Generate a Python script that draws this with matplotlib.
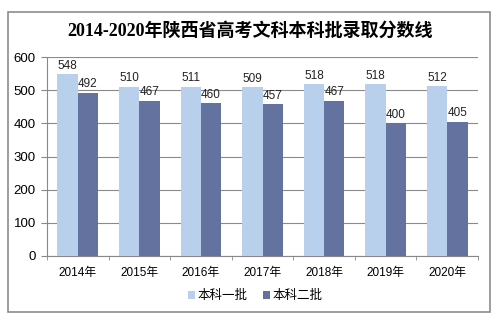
import matplotlib
matplotlib.use("Agg")
import matplotlib.pyplot as plt
import numpy as np
from matplotlib.patches import Rectangle

years = ["2014年", "2015年", "2016年", "2017年", "2018年", "2019年", "2020年"]
batch1 = [548, 510, 511, 509, 518, 518, 512]
batch2 = [492, 467, 460, 457, 467, 400, 405]
series_names = ["本科一批", "本科二批"]
title = "2014-2020年陕西省高考文科本科批录取分数线"

plt.rcParams['font.family'] = ['Liberation Sans', 'Noto Sans CJK SC', 'DejaVu Sans']

fig = plt.figure(figsize=(5, 3.22), dpi=100)
fig.patch.set_facecolor('white')
fig.add_artist(Rectangle((8/500, 1-312/322), 482/500, 300/322, transform=fig.transFigure,
                         fill=False, edgecolor='#8c8c8c', linewidth=1.2))

ax = fig.add_axes([47/500, 1-256/322, 431/500, 199/322])
x = np.arange(len(years))
w = 0.33
c1 = '#B8D0EB'
c2 = '#63729F'
b1 = ax.bar(x - w/2, batch1, w, color=c1, label=series_names[0], zorder=3)
b2 = ax.bar(x + w/2, batch2, w, color=c2, label=series_names[1], zorder=3)
for rect, v in zip(b1, batch1):
    ax.text(rect.get_x() + rect.get_width()/2, v + 8, str(v), ha='center', va='bottom', fontsize=8.5, color='#222222')
for rect, v in zip(b2, batch2):
    ax.text(rect.get_x() + rect.get_width()/2, v + 8, str(v), ha='center', va='bottom', fontsize=8.5, color='#222222')

ax.set_xlim(-0.5, len(years) - 0.5)
ax.set_ylim(0, 600)
ax.set_yticks(range(0, 601, 100))
ax.set_yticklabels([str(v) for v in range(0, 601, 100)], fontsize=9.5)
ax.set_xticks(x)
ax.set_xticklabels(years, fontsize=8.5)
ax.set_xticks(np.arange(-0.5, len(years), 1), minor=True)
ax.tick_params(axis='x', which='major', length=0, pad=8)
ax.tick_params(axis='x', which='minor', length=3, color='#888888')
ax.tick_params(axis='y', length=4, color='#888888', pad=4)
ax.grid(axis='y', color='#8a8a8a', linewidth=0.8, zorder=0)
for s in ['top', 'right']:
    ax.spines[s].set_visible(False)
ax.spines['left'].set_color('#888888')
ax.spines['bottom'].set_color('#888888')

fig.text(0.5, 1-31/322, title, ha='center', va='center', fontsize=13, fontweight='bold',
         family=['Liberation Serif', 'Noto Sans CJK SC'])

fig.legend(handles=[b1, b2], labels=series_names, loc='center', bbox_to_anchor=(0.51, 1-296/322),
           ncol=2, frameon=False, fontsize=9, handlelength=0.6, handleheight=0.6,
           handletextpad=0.2, columnspacing=1.2)

fig.savefig('out.png', dpi=100)
